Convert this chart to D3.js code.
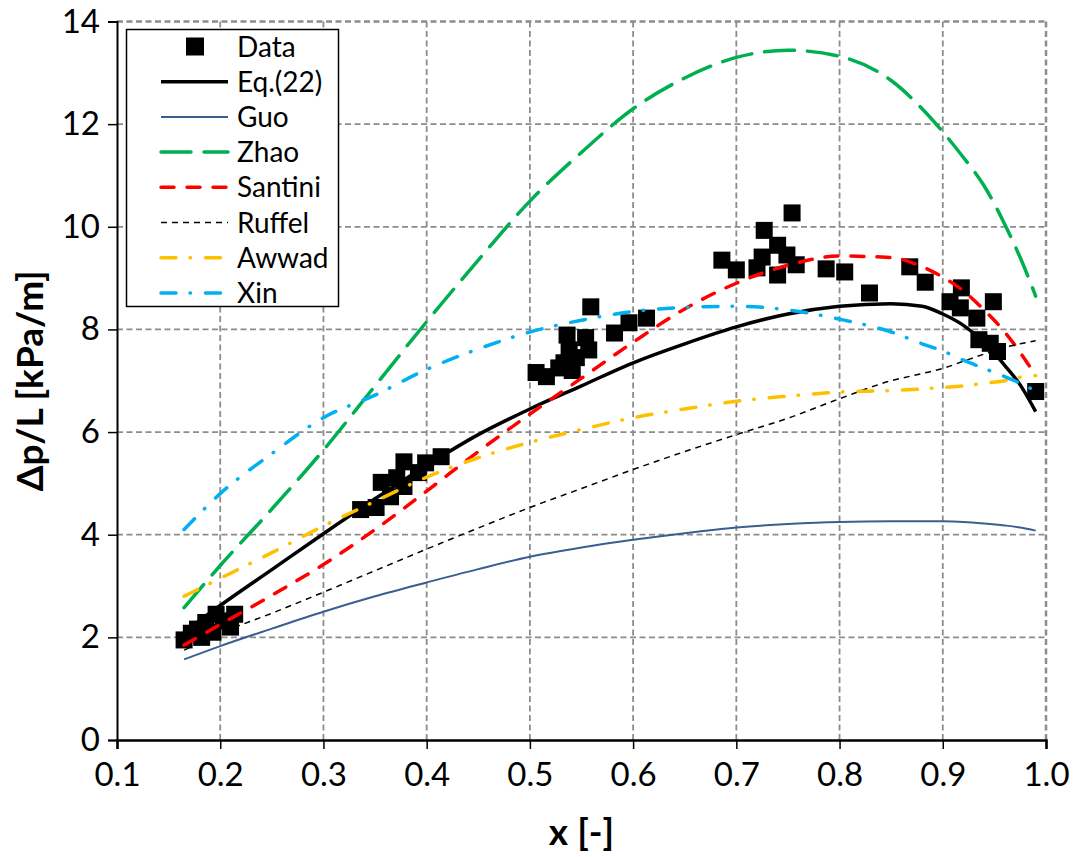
<!DOCTYPE html>
<html>
<head>
<meta charset="utf-8">
<script src="https://cdn.jsdelivr.net/npm/d3@7"></script>
<style>
  body { margin: 0; background: #fff; }
  text { font-family: Lato, "Open Sans", sans-serif; }
</style>
</head>
<body>
<div id="chart"></div>
<script>
// curve x grid (shared by all model curves)
var xGrid = [0.165, 0.2, 0.25, 0.3, 0.35, 0.4, 0.45, 0.5, 0.55, 0.6, 0.65, 0.7, 0.75, 0.8, 0.85, 0.88, 0.9, 0.92, 0.94, 0.96, 0.975, 0.99];

var eq22    = [2.1, 2.62, 3.32, 4.02, 4.7, 5.35, 5.95, 6.45, 6.9, 7.35, 7.72, 8.05, 8.3, 8.45, 8.5, 8.45, 8.3, 8.08, 7.75, 7.3, 6.92, 6.4];
var guo     = [1.57, 1.83, 2.17, 2.5, 2.8, 3.07, 3.33, 3.57, 3.75, 3.9, 4.03, 4.14, 4.21, 4.25, 4.26, 4.26, 4.26, 4.25, 4.22, 4.18, 4.14, 4.08];
var zhao    = [2.58, 3.4, 4.5, 5.65, 6.9, 8.15, 9.35, 10.5, 11.45, 12.3, 12.9, 13.3, 13.44, 13.32, 12.85, 12.3, 11.85, 11.35, 10.8, 10.05, 9.4, 8.65];
var santini = [1.85, 2.25, 2.82, 3.42, 4.1, 4.85, 5.62, 6.35, 7.05, 7.75, 8.4, 8.9, 9.25, 9.43, 9.4, 9.22, 9.02, 8.75, 8.38, 7.95, 7.55, 7.1];
var ruffel  = [1.75, 2.08, 2.47, 2.88, 3.3, 3.72, 4.13, 4.53, 4.9, 5.27, 5.62, 5.95, 6.27, 6.65, 7.0, 7.14, 7.24, 7.38, 7.52, 7.65, 7.72, 7.78];
var awwad   = [2.8, 3.15, 3.65, 4.17, 4.65, 5.12, 5.5, 5.8, 6.05, 6.28, 6.45, 6.6, 6.7, 6.78, 6.81, 6.84, 6.87, 6.9, 6.95, 7.0, 7.07, 7.1];
var xin     = [4.1, 4.8, 5.58, 6.28, 6.72, 7.22, 7.62, 7.95, 8.18, 8.35, 8.43, 8.45, 8.38, 8.2, 7.95, 7.72, 7.58, 7.4, 7.24, 7.08, 6.95, 6.8];

// measured data
var dataX = [0.165, 0.172, 0.178, 0.182, 0.186, 0.193, 0.196, 0.203, 0.21, 0.214,
             0.336, 0.351, 0.356, 0.365, 0.371, 0.378, 0.378, 0.392, 0.399, 0.414,
             0.506, 0.516, 0.528, 0.533, 0.536, 0.538, 0.541, 0.545, 0.554, 0.557, 0.559, 0.582, 0.596, 0.613,
             0.686, 0.7, 0.72, 0.725, 0.727, 0.74, 0.74, 0.749, 0.754, 0.758, 0.787, 0.805,
             0.829, 0.868, 0.883, 0.907, 0.917, 0.918, 0.933, 0.935, 0.946, 0.949, 0.953, 0.99];
var dataY = [1.95, 2.08, 2.16, 2.0, 2.29, 2.1, 2.45, 2.32, 2.2, 2.45,
             4.49, 4.53, 5.02, 4.74, 5.11, 4.94, 5.42, 5.21, 5.4, 5.52,
             7.16, 7.08, 7.25, 7.35, 7.89, 7.6, 7.2, 7.45, 7.84, 7.6, 8.44, 7.93, 8.13, 8.22,
             9.35, 9.16, 9.2, 9.41, 9.93, 9.64, 9.06, 9.45, 10.27, 9.26, 9.18, 9.12,
             8.71, 9.22, 8.92, 8.54, 8.42, 8.81, 8.22, 7.8, 7.73, 8.54, 7.57, 6.79];

var xTicks = [0.1, 0.2, 0.3, 0.4, 0.5, 0.6, 0.7, 0.8, 0.9, 1.0];
var yTicks = [0, 2, 4, 6, 8, 10, 12, 14];

var series = [
    { name: "Eq.(22)", vals: eq22,    color: "#000000", w: 3.5, dash: null,          cap: "butt" },
    { name: "Guo",     vals: guo,     color: "#3B5E91", w: 2,   dash: null,          cap: "butt" },
    { name: "Zhao",    vals: zhao,    color: "#00B050", w: 3.5, dash: "30,13",       cap: "round" },
    { name: "Santini", vals: santini, color: "#FF0000", w: 3.5, dash: "13,13",       cap: "round" },
    { name: "Ruffel",  vals: ruffel,  color: "#000000", w: 1.5, dash: "6,5",         cap: "butt" },
    { name: "Awwad",   vals: awwad,   color: "#FFC000", w: 3.5, dash: "15,14,0.5,15", cap: "round" },
    { name: "Xin",     vals: xin,     color: "#00B0F0", w: 3.5, dash: "15,14,0.5,15", cap: "round" }
];

var W = 1080, H = 857;
var margin = { top: 21.5, right: 34, bottom: 117, left: 117 },
    width = W - margin.left - margin.right,
    height = H - margin.top - margin.bottom;

var root = d3.select("#chart").append("svg")
    .attr("width", W)
    .attr("height", H);

var svg = root.append("g")
    .attr("transform", "translate(" + margin.left + "," + margin.top + ")");

var x = d3.scaleLinear().domain([0.1, 1.0]).range([0, width]);
var y = d3.scaleLinear().domain([0, 14]).range([height, 0]);

// grid
svg.append("g")
    .selectAll("line.gx")
    .data(xTicks.slice(1))
    .enter()
    .append("line")
    .attr("x1", function (d) { return x(d) })
    .attr("x2", function (d) { return x(d) })
    .attr("y1", 0)
    .attr("y2", height)
    .attr("stroke", "#8c8c8c")
    .attr("stroke-width", function (d) { return d == 1.0 ? 2.5 : 1.8 })
    .attr("stroke-dasharray", "6,3.5")

svg.append("g")
    .selectAll("line.gy")
    .data(yTicks.slice(1))
    .enter()
    .append("line")
    .attr("x1", 0)
    .attr("x2", width)
    .attr("y1", function (d) { return y(d) })
    .attr("y2", function (d) { return y(d) })
    .attr("stroke", "#8c8c8c")
    .attr("stroke-width", function (d) { return d == 14 ? 2.5 : 1.8 })
    .attr("stroke-dasharray", "6,3.5")

// axes
var xAxis = svg.append("g")
    .attr("transform", "translate(0," + height + ")")
    .call(d3.axisBottom(x).tickValues(xTicks).tickFormat(d3.format(".1f")).tickSize(9).tickPadding(14));
var yAxis = svg.append("g")
    .call(d3.axisLeft(y).tickValues(yTicks).tickSize(9).tickPadding(8));

xAxis.select(".domain").attr("stroke", "#000").attr("stroke-width", 2.5)
yAxis.select(".domain").attr("stroke", "#000").attr("stroke-width", 2)
xAxis.selectAll(".tick line").attr("stroke", "#000").attr("stroke-width", 1.5)
yAxis.selectAll(".tick line").attr("stroke", "#000").attr("stroke-width", 1.5)
xAxis.selectAll(".tick text").style("font-size", "33px").style("font-family", "Lato").attr("fill", "#000")
yAxis.selectAll(".tick text").style("font-size", "33px").style("font-family", "Lato").attr("fill", "#000")

// data squares
var sq = 17;
svg.append("g")
    .selectAll("rect.dat")
    .data(dataX.map(function (d, i) { return { x: d, y: dataY[i] } }))
    .enter()
    .append("rect")
    .attr("x", function (d) { return x(d.x) - sq / 2 })
    .attr("y", function (d) { return y(d.y) - sq / 2 })
    .attr("width", sq)
    .attr("height", sq)
    .attr("fill", "#000")

// model lines
var line = d3.line()
    .x(function (d) { return x(d[0]) })
    .y(function (d) { return y(d[1]) })
    .curve(d3.curveMonotoneX);

series.forEach(function (s) {
    svg.append("path")
        .datum(xGrid.map(function (d, i) { return [d, s.vals[i]] }))
        .attr("fill", "none")
        .attr("stroke", s.color)
        .attr("stroke-width", s.w)
        .attr("stroke-linecap", s.cap)
        .attr("stroke-dasharray", s.dash)
        .attr("d", line)
})

// axis titles
root.append("text")
    .text("x [-]")
    .attr("x", margin.left + width / 2)
    .attr("y", 845)
    .attr("text-anchor", "middle")
    .style("font-weight", "bold")
    .style("font-size", "37px")

root.append("text")
    .text("Δp/L [kPa/m]")
    .attr("transform", "translate(43," + (margin.top + height / 2) + ") rotate(-90)")
    .attr("text-anchor", "middle")
    .style("font-weight", "bold")
    .style("font-size", "37px")

// legend
var lg = root.append("g");
lg.append("rect")
    .attr("x", 126.5)
    .attr("y", 29.5)
    .attr("width", 212)
    .attr("height", 277)
    .attr("fill", "#fff")
    .attr("stroke", "#000")
    .attr("stroke-width", 1.5)

var rowY = function (i) { return 46.5 + i * 35.2 };

lg.append("rect")
    .attr("x", 195 - 9)
    .attr("y", rowY(0) - 9)
    .attr("width", 18)
    .attr("height", 18)
    .attr("fill", "#000")
lg.append("text")
    .text("Data")
    .attr("x", 237)
    .attr("y", rowY(0))
    .attr("dy", "0.36em")
    .style("font-size", "28px")

series.forEach(function (s, i) {
    var yy = rowY(i + 1);
    lg.append("line")
        .attr("x1", 161)
        .attr("x2", 228)
        .attr("y1", yy)
        .attr("y2", yy)
        .attr("stroke", s.color)
        .attr("stroke-width", s.w)
        .attr("stroke-linecap", s.cap)
        .attr("stroke-dasharray", s.dash)
    lg.append("text")
        .text(s.name)
        .attr("x", 237)
        .attr("y", yy)
        .attr("dy", "0.36em")
        .style("font-size", "28px")
})
</script>
</body>
</html>
